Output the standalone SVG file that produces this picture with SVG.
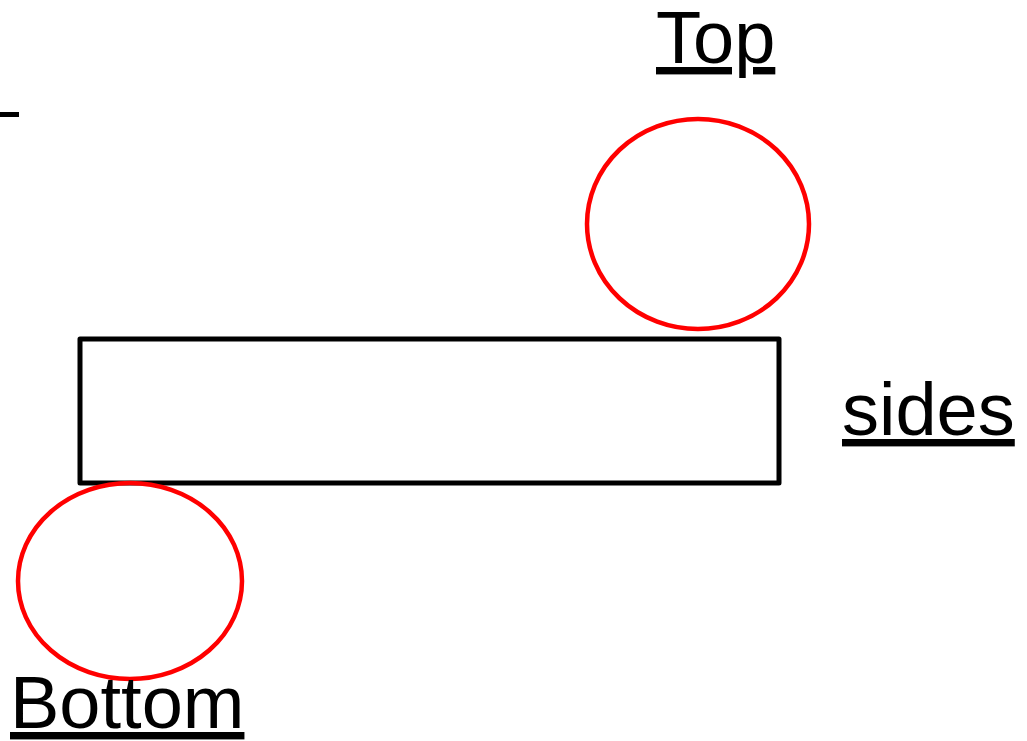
<svg xmlns="http://www.w3.org/2000/svg" width="1027" height="741" viewBox="0 0 1027 741">
  <style>
    .lbl { font-family: "Liberation Sans", Arial, sans-serif; font-size: 74px; fill: #000; text-decoration: underline; }
    .ring { fill: none; stroke: #ff0000; stroke-width: 4.5; }
    .box { fill: none; stroke: #000; stroke-width: 5; stroke-linejoin: round; }
  </style>
  <rect width="1027" height="741" fill="#fff"/>
  <!-- short dash at left edge -->
  <rect x="0" y="112" width="19" height="5" fill="#000"/>
  <g id="beam">
    <rect class="box" x="80" y="339" width="699" height="144"/>
  </g>
  <g id="top-ring">
    <ellipse class="ring" cx="698" cy="224" rx="111" ry="105"/>
  </g>
  <g id="bottom-ring">
    <ellipse class="ring" cx="130" cy="581" rx="112" ry="98"/>
  </g>
  <g id="connectors"></g>
  <g id="label-top"><text class="lbl" x="656" y="63">Top</text></g>
  <g id="label-sides"><text class="lbl" x="842" y="435">sides</text></g>
  <g id="label-bottom"><text class="lbl" x="10" y="728">Bottom</text></g>
</svg>
